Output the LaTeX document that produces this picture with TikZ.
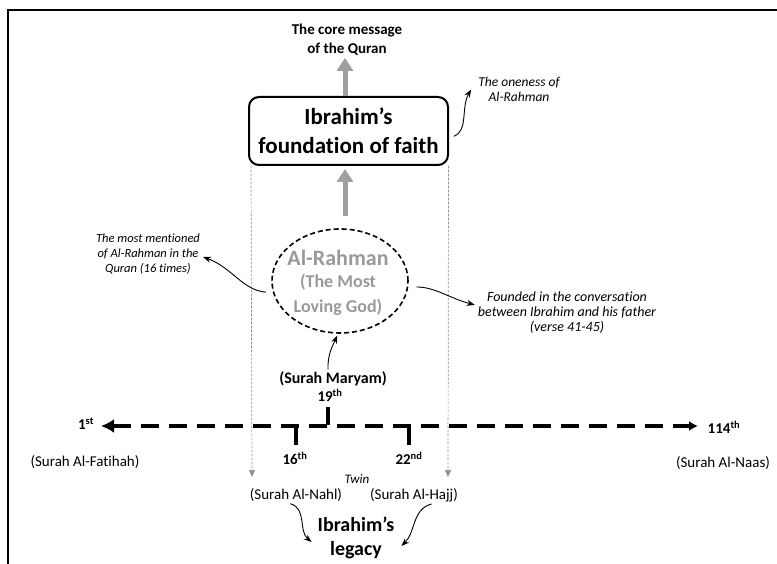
\documentclass[tikz,border=0pt]{standalone}
\usepackage{fontspec}
\setmainfont{Carlito}[Ligatures={NoCommon}]
\usetikzlibrary{arrows.meta,shapes.geometric}
\definecolor{arrgray}{HTML}{A0A0A0}
\definecolor{rgray}{HTML}{9A9A9A}
\definecolor{dgray}{HTML}{909090}
\newcommand{\myfs}[2]{\fontsize{#1}{#2}\selectfont}
\begin{document}
\begin{tikzpicture}[x=1pt,y=1pt,
  every node/.style={inner sep=2pt, align=center, text=black},
  boxtext/.style={font=\myfs{23}{29}\bfseries},
  coretext/.style={font=\myfs{15}{19}\bfseries},
  note/.style={font=\myfs{12.5}{15}\itshape, inner sep=3pt},
  boldlbl/.style={font=\myfs{15}{18}\bfseries},
  plainlbl/.style={font=\myfs{15}{18}},
  grayarrow/.style={draw=arrgray, line width=5pt, -{Triangle[length=13pt,width=16pt]}},
  thinarrow/.style={draw=black, line width=0.9pt, -{Stealth[length=8pt,width=6pt]}},
  dotline/.style={draw=dgray, line width=0.7pt, dash pattern=on 2.5pt off 1.5pt, -{Triangle[length=7pt,width=6pt]}},
  tickmark/.style={draw=black, line width=4pt},
]
\useasboundingbox (0,0) rectangle (777,564);
\fill[white] (0,0) rectangle (777,564);
% frame
\draw[line width=2pt] (7.5,0) -- (7.5,554) -- (777,554);

% top
\node[coretext] (core) at (347,524) {The core message\\of the Quran};
\node[boxtext, draw, line width=2pt, rounded corners=10pt, minimum width=199pt, minimum height=68pt] (box) at (348.5,433) {Ibrahim’s\\foundation of faith};
\node[note, font=\myfs{13.5}{15.5}\itshape] (oneness) at (519,474.5) {The oneness of\\Al-Rahman};

% ellipse
\node[ellipse, draw, line width=1.6pt, dash pattern=on 5pt off 3pt, minimum width=136pt, minimum height=104pt, inner sep=0pt] (rahman) at (340,283) {};
\node[font=\myfs{22}{24}\bfseries, text=rgray] (rt1) at (338,306) {Al-Rahman};
\node[font=\myfs{18}{25}\bfseries, text=rgray] (rt2) at (338,269) {(The Most\\Loving God)};

\node[note] (mm) at (148,310) {The most mentioned\\of Al-Rahman in the\\Quran (16 times)};
\node[note, font=\myfs{14}{15}\itshape] (founded) at (567,251) {Founded in the conversation\\between Ibrahim and his father\\(verse 41-45)};

\node[font=\myfs{16}{18}\bfseries] (maryam) at (333,185) {(Surah Maryam)};
\node[boldlbl] (n19) at (330,169) {19\textsuperscript{th}};

% timeline
\coordinate (tlL) at (101,138);
\coordinate (tlR) at (698,138);
\draw[line width=4.5pt, dash pattern=on 18pt off 10pt, {Latex[length=13pt,width=14pt]}-{Latex[length=9pt,width=10pt]}] (tlL) -- (tlR);
\node[boldlbl] (n1) at (86,140) {1\textsuperscript{st}};
\node[boldlbl] (n114) at (724,137) {114\textsuperscript{th}};
\node[plainlbl] (fatihah) at (85,102) {(Surah Al-Fatihah)};
\node[plainlbl] (naas) at (723,101) {(Surah Al-Naas)};

\coordinate (t19a) at (328,157); \coordinate (t19b) at (328,139);
\coordinate (t16a) at (296,137); \coordinate (t16b) at (296,119);
\coordinate (t22a) at (409,137); \coordinate (t22b) at (409,119);
\draw[tickmark] (t19a) -- (t19b);
\draw[tickmark] (t16a) -- (t16b);
\draw[tickmark] (t22a) -- (t22b);
\node[boldlbl] (n16) at (295,106) {16\textsuperscript{th}};
\node[boldlbl] (n22) at (409,106) {22\textsuperscript{nd}};

% bottom
\node[font=\myfs{13}{15}\itshape] (twin) at (357,85) {Twin};
\node[plainlbl] (nahl) at (296,69) {(Surah Al-Nahl)};
\node[plainlbl] (hajj) at (414,69) {(Surah Al-Hajj)};
\node[font=\myfs{20}{24}\bfseries] (legacy) at (356,26) {Ibrahim’s\\legacy};

% gray arrows
\draw[grayarrow] (box.north -| 345,0) -- (core.south -| 345,0);
\draw[grayarrow] ([xshift=5pt,yshift=12pt]rahman.north) -- ([xshift=-3.5pt,yshift=-3pt]box.south);

% dotted guides
\coordinate (dl) at (252,87);
\coordinate (dr) at (448,87);
\draw[dotline] ([xshift=3pt]box.south west) -- (dl);
\draw[dotline] ([xshift=-0.5pt]box.south east) -- (dr);

% annotation arrows
\draw[thinarrow, shorten <=5pt] (box.-4) to[out=20,in=-120] ([xshift=-4pt]oneness.west);
\draw[thinarrow, shorten <=7pt] (rahman.190) to[out=175,in=-20] ([yshift=-3pt]mm.east);
\draw[thinarrow, shorten <=8pt] (rahman.-5) to[out=0,in=165] (founded.175);
\draw[thinarrow, shorten >=2pt] ([xshift=-5pt]maryam.north) to[out=92,in=-115] (rahman.-92);
\draw[thinarrow] (nahl.-123) to[out=-15,in=140] ([xshift=-4pt,yshift=-4pt]legacy.west);
\draw[thinarrow] (hajj.-27) to[out=195,in=45] ([xshift=5pt,yshift=-8pt]legacy.east);
\end{tikzpicture}
\end{document}
